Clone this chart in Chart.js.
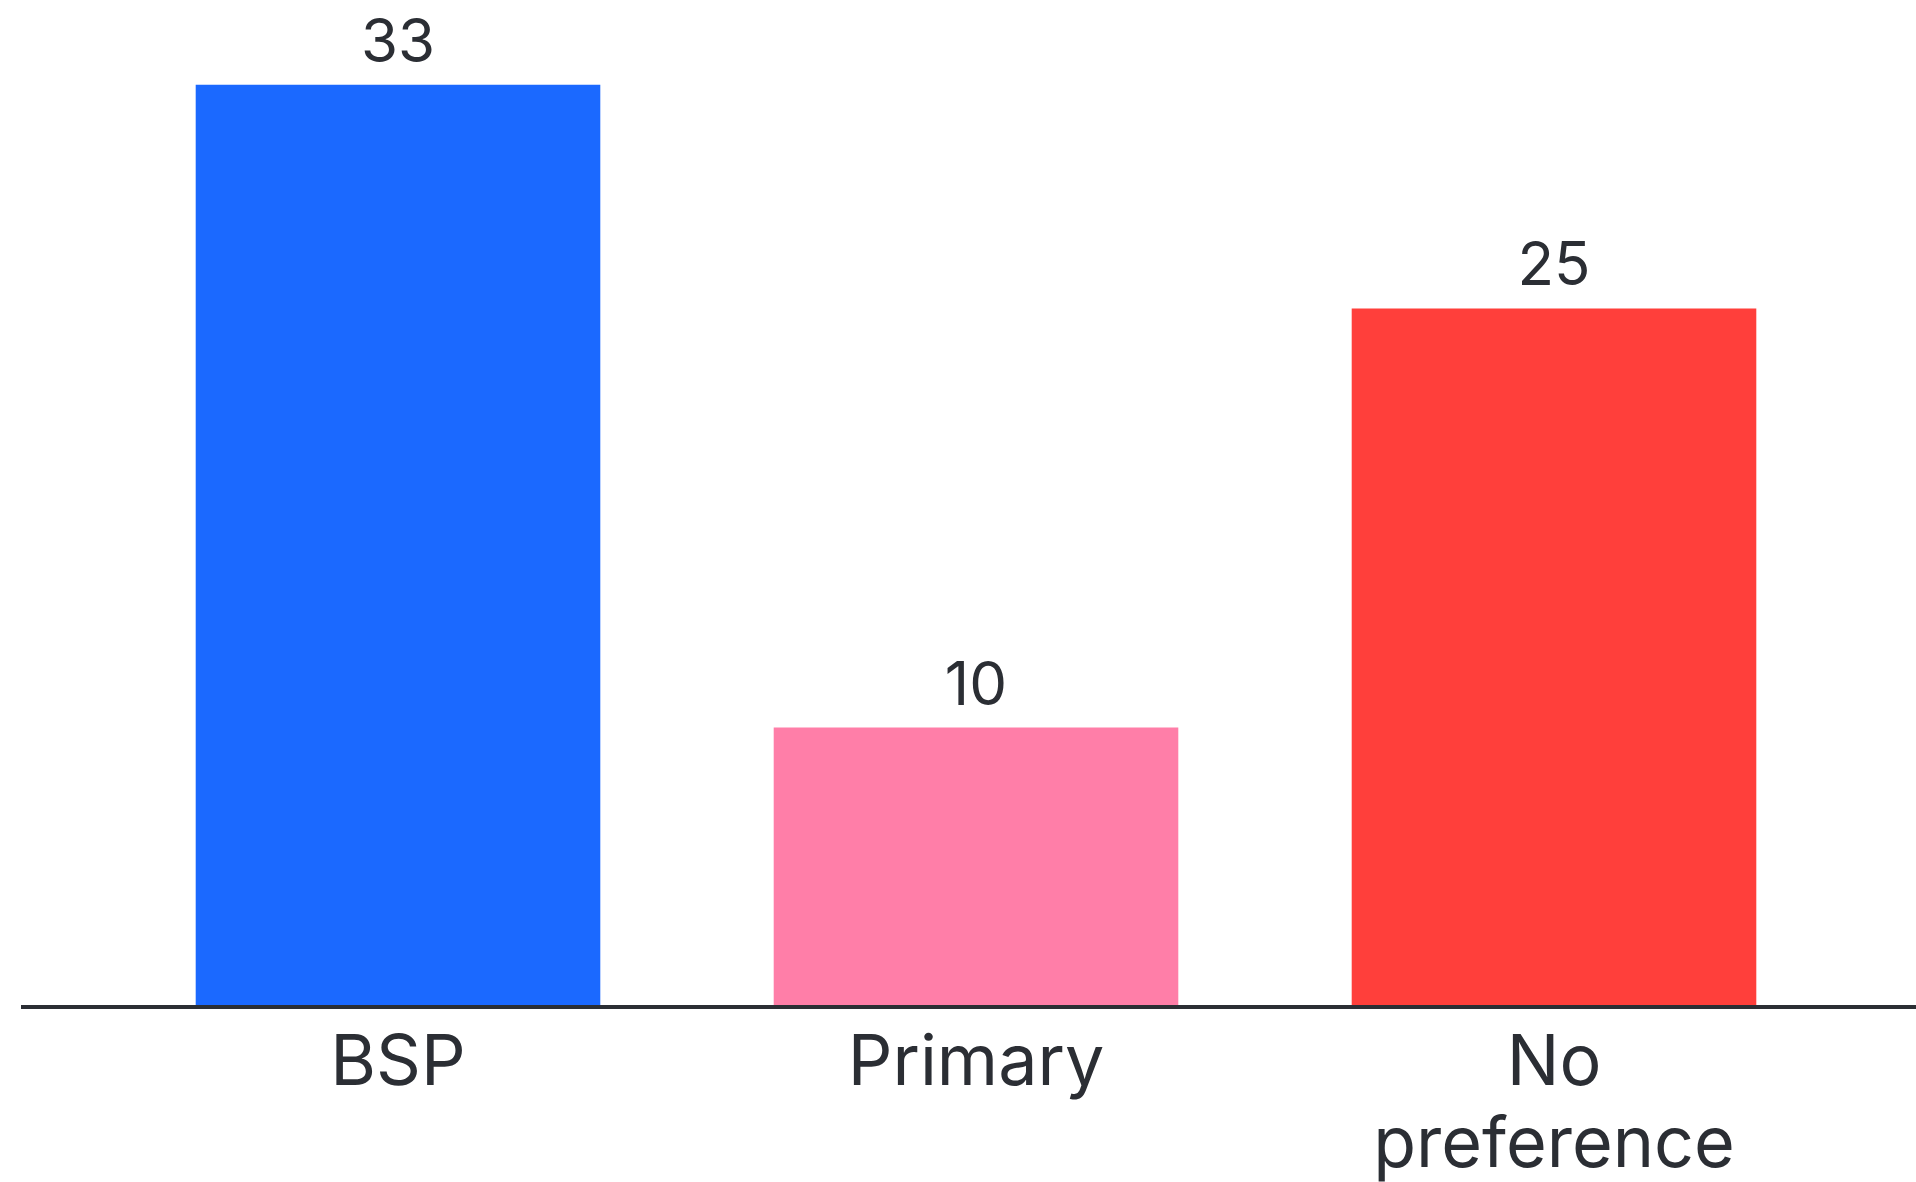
<!DOCTYPE html>
<html>
<head>
<meta charset="utf-8">
<script src="https://cdn.jsdelivr.net/npm/chart.js@4/dist/chart.umd.min.js"></script>
<style>
  html, body { margin: 0; padding: 0; background: #ffffff; }
  #wrap { width: 1916px; height: 1182px; position: relative; }
</style>
</head>
<body>
<div id="wrap"><canvas id="c"></canvas></div>
<script>
const categories = [["BSP"], ["Primary"], ["No", "preference"]];
const values = [33, 10, 25];
const barColors = ["#1B69FF", "#FF7EA8", "#FF3F3B"];

const textColor = "#2b2e34";
const fontFamily = "Inter, 'Open Sans', sans-serif";

const axisLinePlugin = {
  id: "axisLine",
  afterDatasetsDraw(chart) {
    const ctx = chart.ctx;
    const y = chart.scales.y.getPixelForValue(0);
    ctx.save();
    ctx.strokeStyle = "#2b2e34";
    ctx.lineWidth = 4;
    ctx.beginPath();
    ctx.moveTo(21, y);
    ctx.lineTo(chart.width, y);
    ctx.stroke();
    ctx.restore();
  }
};

const valueLabelPlugin = {
  id: "valueLabels",
  afterDatasetsDraw(chart) {
    const ctx = chart.ctx;
    const meta = chart.getDatasetMeta(0);
    ctx.save();
    ctx.fillStyle = textColor;
    ctx.font = "400 60px " + fontFamily;
    ctx.textAlign = "center";
    ctx.textBaseline = "middle";
    meta.data.forEach((bar, i) => {
      ctx.fillText(String(values[i]), bar.x, bar.y - 41);
    });
    ctx.restore();
  }
};

new Chart(document.getElementById("c"), {
  type: "bar",
  data: {
    labels: categories,
    datasets: [{
      data: values,
      backgroundColor: barColors,
      borderWidth: 0,
      categoryPercentage: 1.0,
      barPercentage: 0.7
    }]
  },
  options: {
    responsive: true,
    maintainAspectRatio: false,
    animation: false,
    layout: { padding: { top: 1, left: 109, right: 73, bottom: -21 } },
    plugins: { legend: { display: false }, tooltip: { enabled: false } },
    scales: {
      x: {
        grid: { display: false, drawTicks: false },
        border: { display: false },
        ticks: {
          color: textColor,
          padding: 16,
          font: { family: fontFamily, size: 70, weight: "400", lineHeight: 1.171 },
          maxRotation: 0,
          autoSkip: false
        }
      },
      y: {
        display: false,
        min: 0,
        max: 36
      }
    }
  },
  plugins: [axisLinePlugin, valueLabelPlugin]
});
</script>
</body>
</html>
